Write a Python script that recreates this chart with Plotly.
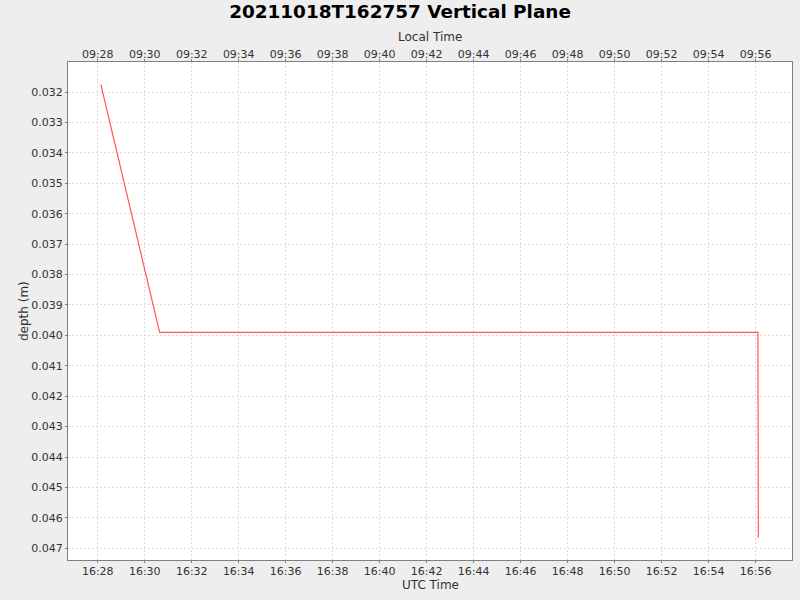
import plotly.graph_objects as go
import pandas as pd

utc_times = ["2021-10-18 16:28:08", "2021-10-18 16:30:38", "2021-10-18 16:56:06", "2021-10-18 16:56:07"]
depth = [0.03176, 0.0399, 0.0399, 0.04665]

x_range_utc = ["2021-10-18 16:26:44", "2021-10-18 16:57:33"]
y_range = [0.047385, 0.031013]
utc_offset_hours = -7

t_utc = pd.to_datetime(utc_times)
t_local = t_utc + pd.Timedelta(hours=utc_offset_hours)
xr_utc = pd.to_datetime(x_range_utc)
xr_local = xr_utc + pd.Timedelta(hours=utc_offset_hours)

FONT = "DejaVu Sans"
GRID = "#DCDCDC"
AXC = "#808080"
TXT = "#333333"

fig = go.Figure()
fig.add_trace(go.Scatter(x=t_utc, y=depth, mode="lines",
                         line=dict(color="#FF5555", width=1.2),
                         showlegend=False, hoverinfo="skip"))
fig.add_trace(go.Scatter(x=t_local, y=depth, mode="lines", xaxis="x2",
                         line=dict(color="rgba(0,0,0,0)", width=0),
                         showlegend=False, hoverinfo="skip"))

fig.update_layout(
    width=800, height=600,
    paper_bgcolor="#EEEEEE", plot_bgcolor="white",
    margin=dict(l=68, r=8, t=62, b=40, autoexpand=False),
    font=dict(family=FONT, color=TXT, size=11),
    title=dict(text="<b>20211018T162757 Vertical Plane</b>", x=0.5, xanchor="center",
               y=0.98, yanchor="middle", font=dict(family=FONT, size=18.4, color="black")),
    xaxis=dict(type="date", range=list(xr_utc), tickformat="%H:%M", dtick=120000,
               tick0="2021-10-18 16:28:00", automargin=False,
               showgrid=True, gridcolor=GRID, griddash="2px,2px", gridwidth=1,
               showline=True, linecolor=AXC, mirror=True,
               ticks="outside", ticklen=2, tickcolor=AXC,
               tickfont=dict(size=11, color=TXT), ticklabelstandoff=-1,
               zeroline=False),
    xaxis2=dict(type="date", range=list(xr_local), overlaying="x", side="top",
                tickformat="%H:%M", dtick=120000, tick0="2021-10-18 09:28:00",
                automargin=False,
                showgrid=False, showline=True, linecolor=AXC,
                ticks="outside", ticklen=2, tickcolor=AXC,
                tickfont=dict(size=11, color=TXT), ticklabelstandoff=-3,
                zeroline=False),
    yaxis=dict(range=y_range, dtick=0.001, tick0=0.032, tickformat=".3f",
               automargin=False,
               showgrid=True, gridcolor=GRID, griddash="2px,2px", gridwidth=1,
               showline=True, linecolor=AXC, mirror=True,
               ticks="outside", ticklen=2, tickcolor=AXC,
               tickfont=dict(size=11, color=TXT),
               zeroline=False),
    annotations=[
        dict(text="Local Time", xref="paper", yref="paper", x=0.5, y=1,
             xanchor="center", yanchor="middle", yshift=25, showarrow=False,
             font=dict(size=12, color=TXT)),
        dict(text="UTC Time", xref="paper", yref="paper", x=0.5, y=0,
             xanchor="center", yanchor="middle", yshift=-25, showarrow=False,
             font=dict(size=12, color=TXT)),
        dict(text="depth (m)", xref="paper", yref="paper", x=0, y=0.5,
             xanchor="center", yanchor="middle", xshift=-44, textangle=-90,
             showarrow=False, font=dict(size=12, color=TXT)),
    ],
)

fig.write_html("out.html", config={"displayModeBar": False},
               post_script="document.body.style.margin='0';document.body.style.background='#EEEEEE';")
